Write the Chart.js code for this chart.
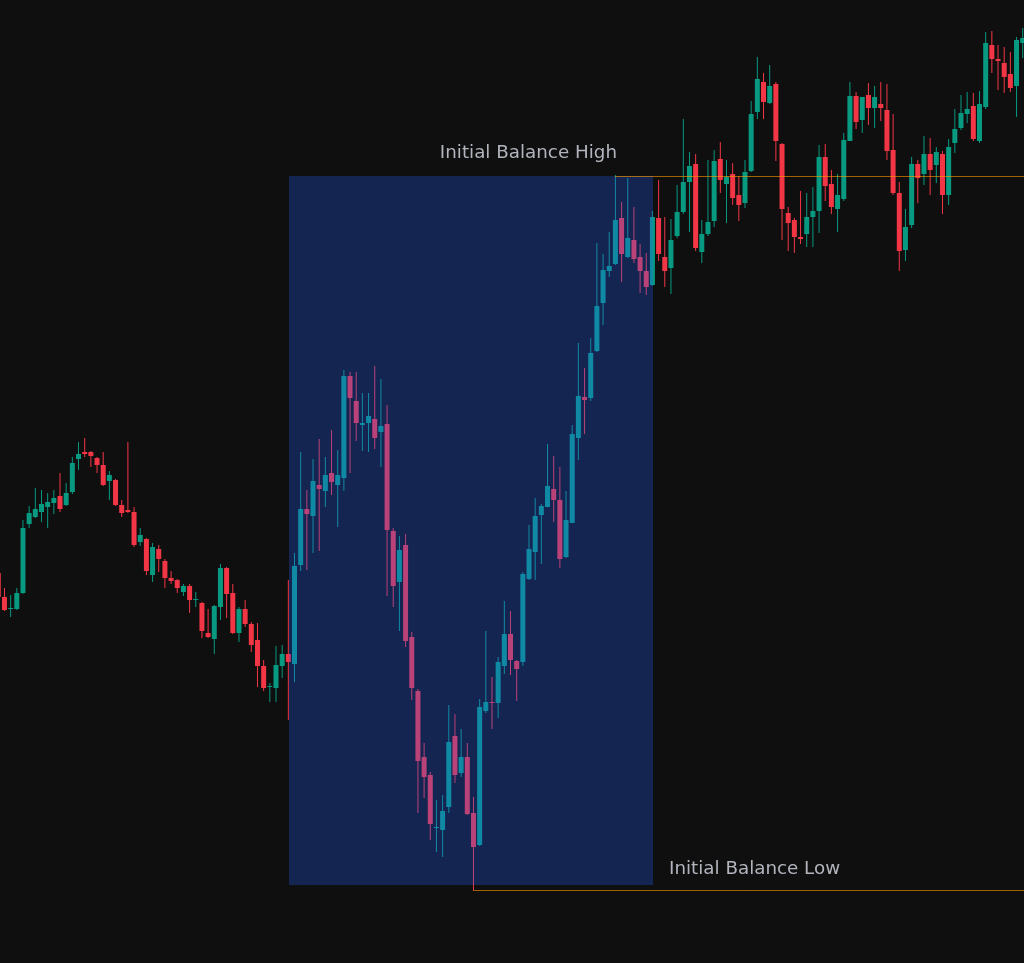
<!DOCTYPE html>
<html lang="en">
<head>
<meta charset="utf-8">
<title>Initial Balance</title>
<script src="https://cdn.jsdelivr.net/npm/chart.js@4/dist/chart.umd.min.js"></script>
<style>
  html, body { margin: 0; padding: 0; background: #0f0f0f; overflow: hidden; }
  canvas { display: block; }
</style>
</head>
<body>
<canvas id="chart" width="1024" height="963"></canvas>
<script>
// OHLC per bar, oldest first (bar index = position on the x axis)
const OPENS = [
  427, 403, 391, 391, 407, 476, 483, 488, 493, 497,
  504, 495, 508, 541, 548, 548, 542, 535, 519, 520,
  495, 490, 488, 458, 461, 425, 451, 439, 422, 420,
  408, 414, 400, 397, 367, 361, 393, 432, 407, 367,
  391, 376, 360, 334, 313, 312, 334, 346, 336, 435,
  491, 484, 515, 509, 527, 515, 522, 624, 599, 575,
  577, 581, 568, 576, 469, 418, 455, 363, 309, 243,
  225, 172, 170, 193, 264, 227, 243, 187, 155, 289,
  298, 297, 334, 366, 339, 338, 421, 448, 485, 493,
  511, 500, 443, 477, 562, 603, 602, 649, 697, 729,
  736, 782, 743, 760, 743, 729, 715, 782, 743, 732,
  764, 788, 818, 836, 748, 766, 779, 841, 816, 826,
  805, 797, 829, 888, 918, 897, 916, 856, 787, 780,
  763, 766, 783, 789, 843, 816, 791, 801, 859, 904,
  880, 905, 892, 896, 890, 850, 807, 750, 775, 836,
  826, 846, 835, 846, 805, 857, 872, 886, 894, 859,
  893, 955, 941, 937, 926, 914, 957,
];
const HIGHS = [
  430, 412, 405, 412, 480, 494, 512, 510, 507, 510,
  527, 517, 543, 558, 562, 549, 543, 548, 529, 521,
  500, 558, 493, 472, 462, 457, 455, 441, 429, 421,
  416, 416, 408, 398, 391, 395, 436, 433, 416, 393,
  400, 378, 377, 340, 317, 354, 355, 420, 447, 548,
  510, 541, 561, 543, 570, 550, 630, 628, 628, 607,
  607, 634, 621, 595, 472, 464, 466, 368, 311, 257,
  228, 200, 205, 295, 286, 271, 257, 203, 301, 369,
  323, 343, 399, 389, 340, 428, 475, 502, 496, 556,
  544, 533, 509, 575, 657, 632, 662, 757, 746, 768,
  825, 798, 822, 793, 756, 747, 789, 820, 783, 781,
  815, 881, 848, 846, 780, 840, 850, 858, 840, 837,
  824, 840, 899, 943, 927, 935, 918, 857, 793, 782,
  809, 807, 813, 855, 856, 830, 826, 867, 918, 908,
  903, 917, 914, 918, 916, 886, 818, 791, 843, 840,
  864, 862, 853, 849, 861, 891, 905, 908, 907, 909,
  968, 969, 955, 953, 948, 963, 972,
];
const LOWS = [
  400, 389, 383, 390, 406, 472, 482, 478, 472, 486,
  488, 494, 506, 530, 543, 533, 527, 514, 500, 494,
  483, 487, 453, 454, 425, 418, 428, 412, 416, 407,
  404, 387, 393, 362, 362, 346, 380, 382, 366, 358,
  373, 348, 313, 309, 298, 298, 322, 280, 318, 429,
  430, 447, 449, 493, 505, 473, 509, 527, 559, 549,
  548, 551, 533, 404, 393, 369, 353, 300, 187, 202,
  160, 148, 143, 187, 217, 223, 185, 110, 154, 287,
  271, 282, 326, 325, 299, 334, 420, 420, 436, 493,
  478, 432, 442, 477, 540, 566, 599, 648, 675, 723,
  735, 718, 742, 737, 707, 705, 714, 739, 713, 706,
  762, 786, 768, 749, 737, 764, 773, 807, 777, 795,
  779, 792, 828, 881, 881, 896, 839, 760, 749, 747,
  756, 753, 753, 767, 799, 786, 768, 799, 859, 871,
  867, 875, 872, 879, 840, 805, 729, 739, 772, 797,
  815, 805, 817, 786, 795, 847, 870, 877, 859, 857,
  891, 927, 910, 907, 908, 883, 942,
];
const CLOSES = [
  403, 390, 392, 407, 472, 487, 491, 496, 498, 502,
  491, 507, 537, 546, 546, 544, 535, 515, 525, 495,
  487, 488, 455, 465, 429, 453, 441, 422, 419, 412,
  414, 400, 401, 369, 363, 394, 432, 406, 367, 391,
  376, 355, 334, 312, 314, 335, 346, 338, 434, 491,
  486, 519, 511, 525, 518, 525, 624, 602, 577, 577,
  584, 562, 574, 470, 414, 450, 359, 312, 239, 223,
  176, 173, 189, 258, 225, 243, 186, 153, 293, 298,
  297, 338, 366, 340, 331, 426, 451, 484, 494, 514,
  500, 441, 480, 566, 604, 600, 647, 694, 730, 734,
  780, 746, 762, 741, 729, 713, 783, 746, 729, 760,
  788, 818, 834, 752, 766, 778, 839, 820, 823, 802,
  795, 828, 886, 921, 898, 914, 859, 791, 777, 763,
  761, 783, 789, 843, 814, 793, 805, 860, 904, 878,
  903, 892, 903, 892, 849, 807, 749, 773, 836, 822,
  846, 830, 848, 805, 853, 871, 887, 891, 861, 896,
  957, 941, 939, 923, 912, 960, 962,
];

// Initial balance window (bar indices) and its levels
const IB_START_BAR = 47;
const IB_END_BAR = 106;
const IB_HIGH_BAR = 100;
const IB_LOW_BAR = 77;
const IB_HIGH = 824;
const IB_LOW = 110;
const IB_BOX_LOW = 115;
const IB_LABELS = { high: 'Initial Balance High', low: 'Initial Balance Low' };

// Visible window of the price pane
const X_RANGE = [0.277, 166.21];
const Y_RANGE = [37, 1000];

const COLORS = {
  up: '#089981',
  down: '#f23645',
  box: 'rgba(41, 98, 255, 0.28)',
  level: 'rgba(255, 152, 0, 0.62)',
  text: '#b2b5be',
};

const CandleView = (() => {
  /** up/down colour per bar */
  function candleColor(ctx) {
    const i = ctx.dataIndex;
    return CLOSES[i] >= OPENS[i] ? COLORS.up : COLORS.down;
  }

  /** box + level lines + labels, drawn on top so the candles get tinted */
  const initialBalancePlugin = {
    id: 'initialBalance',
    afterDatasetsDraw(chart) {
      const { ctx, chartArea, scales: { x, y } } = chart;
      ctx.save();

      const left = Math.round(x.getPixelForValue(IB_START_BAR)) + 1;
      const right = Math.round(x.getPixelForValue(IB_END_BAR)) + 1;
      const top = Math.round(y.getPixelForValue(IB_HIGH));
      const bottom = Math.round(y.getPixelForValue(IB_BOX_LOW));
      ctx.fillStyle = COLORS.box;
      ctx.fillRect(left, top, right - left, bottom - top);

      const highY = Math.round(y.getPixelForValue(IB_HIGH)) + 0.5;
      const lowY = Math.round(y.getPixelForValue(IB_LOW)) + 0.5;
      const highX = Math.round(x.getPixelForValue(IB_HIGH_BAR));
      const lowX = Math.round(x.getPixelForValue(IB_LOW_BAR));
      ctx.strokeStyle = COLORS.level;
      ctx.lineWidth = 1;
      ctx.beginPath();
      ctx.moveTo(highX, highY);
      ctx.lineTo(chartArea.right, highY);
      ctx.moveTo(lowX, lowY);
      ctx.lineTo(chartArea.right, lowY);
      ctx.stroke();

      ctx.fillStyle = COLORS.text;
      ctx.font = '18.3px "DejaVu Sans", sans-serif';
      ctx.textBaseline = 'alphabetic';
      ctx.textAlign = 'right';
      ctx.fillText(IB_LABELS.high, highX + 2, highY - 19);
      ctx.textAlign = 'left';
      ctx.fillText(IB_LABELS.low, right + 16, lowY - 17);

      ctx.restore();
    },
  };

  function create() {
    const bodies = OPENS.map((o, i) => ({ x: i, y: [Math.min(o, CLOSES[i]), Math.max(o, CLOSES[i])] }));
    const wicks = HIGHS.map((h, i) => ({ x: i, y: [LOWS[i], h] }));

    return new Chart(document.getElementById('chart'), {
      type: 'bar',
      data: {
        datasets: [
          { data: bodies, backgroundColor: candleColor, barThickness: 5, grouped: false, borderWidth: 0, inflateAmount: 0 },
          { data: wicks, backgroundColor: candleColor, barThickness: 1, grouped: false, borderWidth: 0, inflateAmount: 0 },
        ],
      },
      options: {
        responsive: false,
        animation: false,
        layout: { padding: 0 },
        plugins: { legend: { display: false }, tooltip: { enabled: false } },
        scales: {
          x: { type: 'linear', min: X_RANGE[0], max: X_RANGE[1], offset: false, display: false },
          y: { min: Y_RANGE[0], max: Y_RANGE[1], display: false },
        },
      },
      plugins: [initialBalancePlugin],
    });
  }

  return { create };
})();

CandleView.create();
</script>
</body>
</html>
